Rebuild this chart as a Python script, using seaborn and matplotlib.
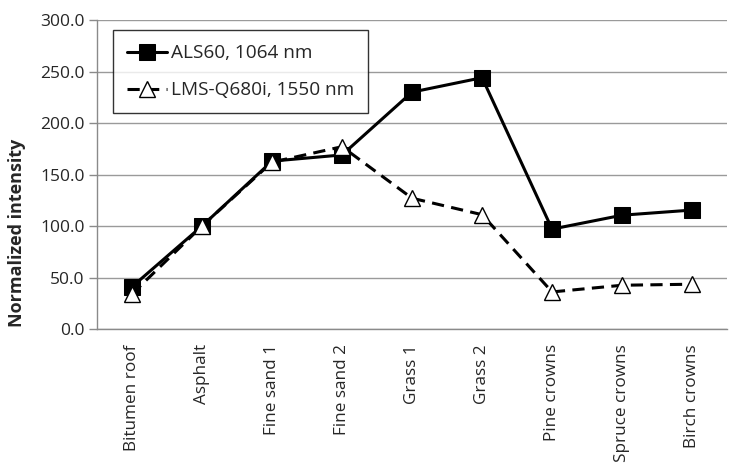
import matplotlib
matplotlib.use("Agg")
import matplotlib.pyplot as plt
import seaborn as sns
import pandas as pd
import numpy as np

categories = ["Bitumen roof", "Asphalt", "Fine sand 1", "Fine sand 2", "Grass 1",
              "Grass 2", "Pine crowns", "Spruce crowns", "Birch crowns"]
als60 = [41, 100, 163, 169, 230, 244, 97, 110.5, 115.5]
lms = [34, 100, 162, 177, 127, 111, 36, 42.5, 43.5]
series_names = ["ALS60, 1064 nm", "LMS-Q680i, 1550 nm"]
yticks = [0, 50, 100, 150, 200, 250, 300]

sns.set_theme(style="white")
plt.rcParams['font.family'] = ['Open Sans', 'DejaVu Sans']

df = pd.DataFrame({
    "cat": categories * 2,
    "x": list(range(len(categories))) * 2,
    "val": als60 + lms,
    "series": [series_names[0]] * len(categories) + [series_names[1]] * len(categories),
})

fig = plt.figure(figsize=(7.33, 4.73), dpi=100)
ax = fig.add_axes([0.1323, 0.3044, 0.8597, 0.6533])

sns.lineplot(data=df[df.series == series_names[0]], x="x", y="val", ax=ax,
             color="black", lw=2.2, marker="s", markersize=11,
             markerfacecolor="black", markeredgecolor="black",
             label=series_names[0], zorder=3)
sns.lineplot(data=df[df.series == series_names[1]], x="x", y="val", ax=ax,
             color="black", lw=2.2, linestyle=(0, (4, 2.4)), marker="^", markersize=11,
             markerfacecolor="white", markeredgecolor="black", markeredgewidth=1.0,
             label=series_names[1], zorder=4)

ax.set_xlim(-0.5, len(categories) - 0.5)
ax.set_ylim(0, 300)
ax.set_yticks(yticks)
ax.set_yticklabels([f"{v:.1f}" for v in yticks], fontsize=12.5)
ax.yaxis.grid(True, color="#9a9a9a", lw=1)
ax.xaxis.grid(False)
ax.set_axisbelow(True)

ax.set_xticks(range(len(categories)))
ax.set_xticklabels(categories, rotation=90, fontsize=12.3)
ax.set_xticks(np.arange(-0.5, len(categories) + 0.5, 1), minor=True)
ax.tick_params(axis="x", which="major", length=0, pad=11)
ax.tick_params(axis="x", which="minor", length=6, color="#8a8a8a", width=1, direction="out")
ax.tick_params(axis="y", length=6, color="#8a8a8a", width=1, direction="out", left=True, pad=3)

ax.set_xlabel("")
ax.set_ylabel("Normalized intensity", fontsize=13, fontweight="bold")
ax.yaxis.set_label_coords(-0.113, 0.31)

for s in ["top", "right"]:
    ax.spines[s].set_visible(False)
for s in ["left", "bottom"]:
    ax.spines[s].set_color("#8a8a8a")
    ax.spines[s].set_linewidth(1)

leg = ax.legend(loc="upper left", bbox_to_anchor=(0.025, 0.968), fontsize=13.7,
                frameon=True, fancybox=False, edgecolor="black", handlelength=2.1,
                handletextpad=0.2, borderpad=0.75, labelspacing=1.0, borderaxespad=0)
leg.get_frame().set_linewidth(1.0)

fig.savefig("out.png", dpi=100)
